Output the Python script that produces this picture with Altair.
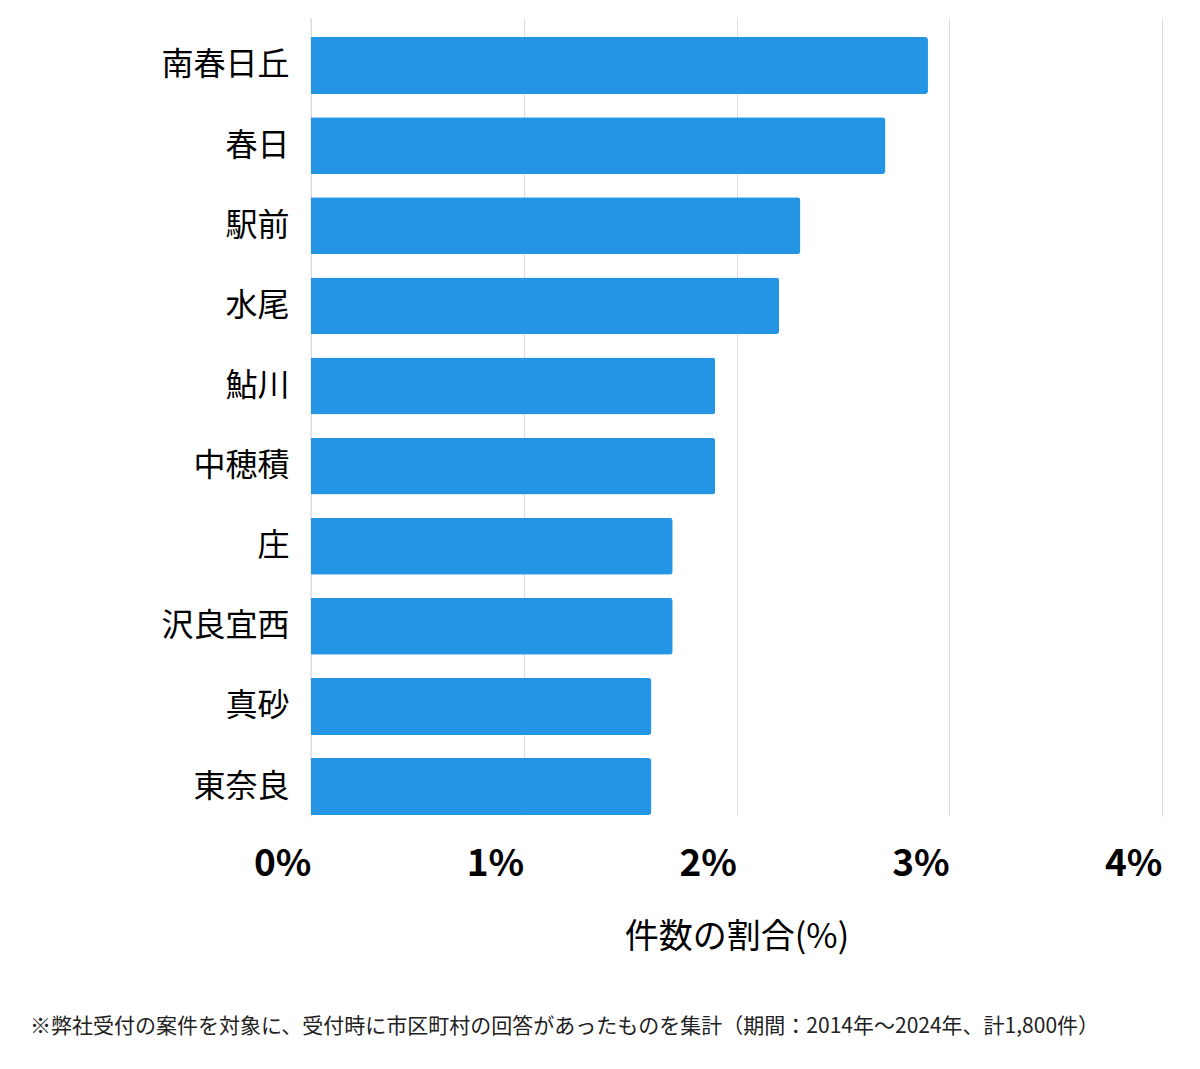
import altair as alt
import pandas as pd

areas = ["南春日丘", "春日", "駅前", "水尾", "鮎川", "中穂積", "庄", "沢良宜西", "真砂", "東奈良"]
shares = [2.9, 2.7, 2.3, 2.2, 1.9, 1.9, 1.7, 1.7, 1.6, 1.6]
x_ticks = [0, 1, 2, 3, 4]
x_title = "件数の割合(%)"
note = "※弊社受付の案件を対象に、受付時に市区町村の回答があったものを集計（期間：2014年～2024年、計1,800件）"

df = pd.DataFrame({"area": areas, "share": shares})
FONT = "Noto Sans CJK JP"

bars = alt.Chart(df).mark_bar(color="#2494E4", cornerRadiusTopRight=3, cornerRadiusBottomRight=3).encode(
    x=alt.X("share:Q",
            scale=alt.Scale(domain=[0, 4], nice=False),
            axis=alt.Axis(values=x_ticks, labelExpr="datum.value + '%'", title=x_title,
                          labelFont=FONT, labelFontSize=37, labelFontWeight="bold", labelColor="#000000",
                          labelAlign="right", labelPadding=30, labelFlush=False,
                          domain=False, ticks=False, grid=True, gridColor="#dddddd", gridWidth=1,
                          titleFont=FONT, titleFontSize=34, titleFontWeight="normal", titleColor="#000000",
                          titlePadding=38)),
    y=alt.Y("area:N", sort=areas,
            scale=alt.Scale(paddingInner=0.29, paddingOuter=0.125, align=0.95),
            axis=alt.Axis(title=None, labelFont=FONT, labelFontSize=32, labelFontWeight="normal",
                          labelColor="#000000", labelPadding=22, domain=False, ticks=False, grid=False)),
)

left_line = alt.Chart(pd.DataFrame({"v": [0]})).mark_rule(color="#dddddd", strokeWidth=1).encode(
    x=alt.X("v:Q"),
)

note_df = pd.DataFrame({"t": [note]})
note_text = alt.Chart(note_df).mark_text(align="left", baseline="middle", font=FONT, fontSize=21,
                                         color="#222222").encode(
    text="t:N", x=alt.value(-281), y=alt.value(1009)
)

chart = alt.layer(left_line, bars, note_text).properties(
    width=851, height=798,
    background="#ffffff",
    autosize=alt.AutoSizeParams(type="none"),
    padding={"left": 311, "top": 18, "right": 38, "bottom": 253},
).configure_view(stroke=None, strokeWidth=0)

chart.save("out.html", embed_options={"renderer": "svg", "actions": False})
